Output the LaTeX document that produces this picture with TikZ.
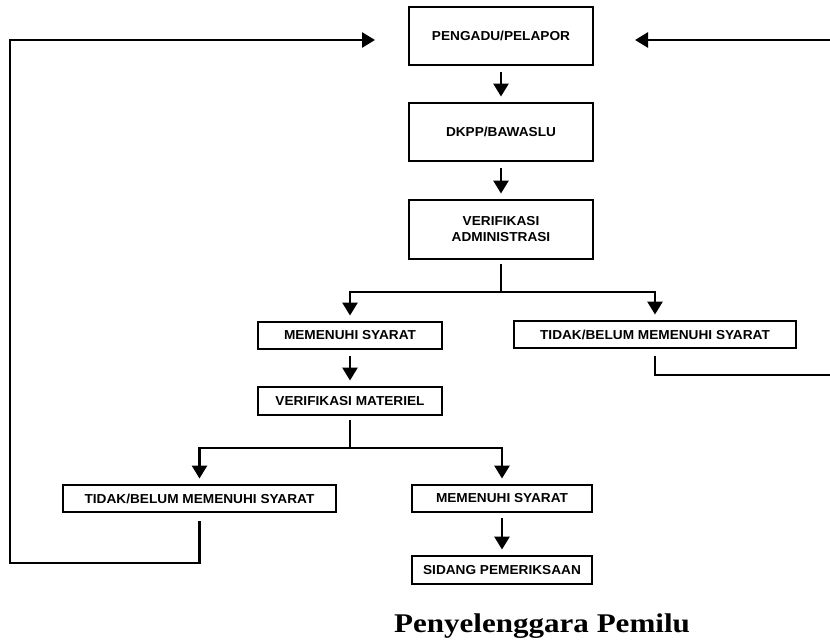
\documentclass[tikz,border=0pt]{standalone}
\usepackage{fontspec}
\setmainfont{Liberation Serif}
\newfontfamily\boxfont[FakeStretch=1.05]{Liberation Sans}
\newfontfamily\titlefont[FakeStretch=1.15]{Liberation Serif}
\usetikzlibrary{arrows.meta,positioning}
\tikzset{>={Triangle[width=15pt,length=13pt]}}
\tikzset{
  box/.style={draw, line width=2.9pt, align=center, inner sep=0pt,
    font=\boxfont\bfseries\fontsize{13}{16}\selectfont},
  flow/.style={line width=2.7pt},
}

\begin{document}
\begin{tikzpicture}[x=1pt,y=-1pt]
    \useasboundingbox (0,0) rectangle (830,644);
    \node[box, minimum width=184pt, minimum height=58pt] (pg) at (501,36) {PENGADU/PELAPOR};
    \node[box, minimum width=184pt, minimum height=58pt] (dk) at (501,132) {DKPP/BAWASLU};
    \node[box, minimum width=184pt, minimum height=59pt] (va) at (501,229.5) {VERIFIKASI\\ADMINISTRASI};
    \node[box, minimum width=184pt, minimum height=27pt] (ms1) at (350,335.5) {MEMENUHI SYARAT};
    \node[box, minimum width=282pt, minimum height=27pt] (tb1) at (655,334.5) {TIDAK/BELUM MEMENUHI SYARAT};
    \node[box, minimum width=184pt, minimum height=28pt] (vm) at (350,401) {VERIFIKASI MATERIEL};
    \node[box, minimum width=273pt, minimum height=27pt] (tb2) at (199.5,498.5) {TIDAK/BELUM MEMENUHI SYARAT};
    \node[box, minimum width=180pt, minimum height=27pt] (ms2) at (502,498.5) {MEMENUHI SYARAT};
    \node[box, minimum width=180pt, minimum height=28pt] (sd) at (502,570) {SIDANG PEMERIKSAAN};
    \coordinate (s1) at (501,292);
    \coordinate (s2) at (350,448);
    \coordinate (rt) at (838,375);
    \coordinate (rin) at (635,40);
    \coordinate (lb) at (10,563);
    \coordinate (lin) at (375,40);
    \draw[flow, ->, shorten <=6pt, shorten >=5pt] (pg) -- (dk);
    \draw[flow, ->, shorten <=6pt, shorten >=5pt] (dk) -- (va);
    \draw[flow, shorten <=4pt] (va.south) -- (s1);
    \draw[flow, ->, shorten >=5pt] (s1) -| (ms1.north);
    \draw[flow, ->, shorten >=5pt] (s1) -| (tb1.north);
    \draw[flow, ->, shorten <=7pt] (tb1.south) |- (rt) |- (rin);
    \draw[flow, ->, shorten <=6pt, shorten >=5pt] (ms1) -- (vm);
    \draw[flow, shorten <=4pt] (vm.south) -- (s2);
    \draw[flow, ->, shorten >=5pt] (s2) -| (tb2.north);
    \draw[flow, ->, shorten >=5pt] (s2) -| (ms2.north);
    \draw[flow, ->, shorten <=8pt] (tb2.south) |- (lb) |- (lin);
    \draw[flow, ->, shorten <=5pt, shorten >=5pt] (ms2) -- (sd);
    \node[font=\titlefont\bfseries\fontsize{27}{30}\selectfont, anchor=base] (title) at (542,632) {Penyelenggara Pemilu};
\end{tikzpicture}
\end{document}
